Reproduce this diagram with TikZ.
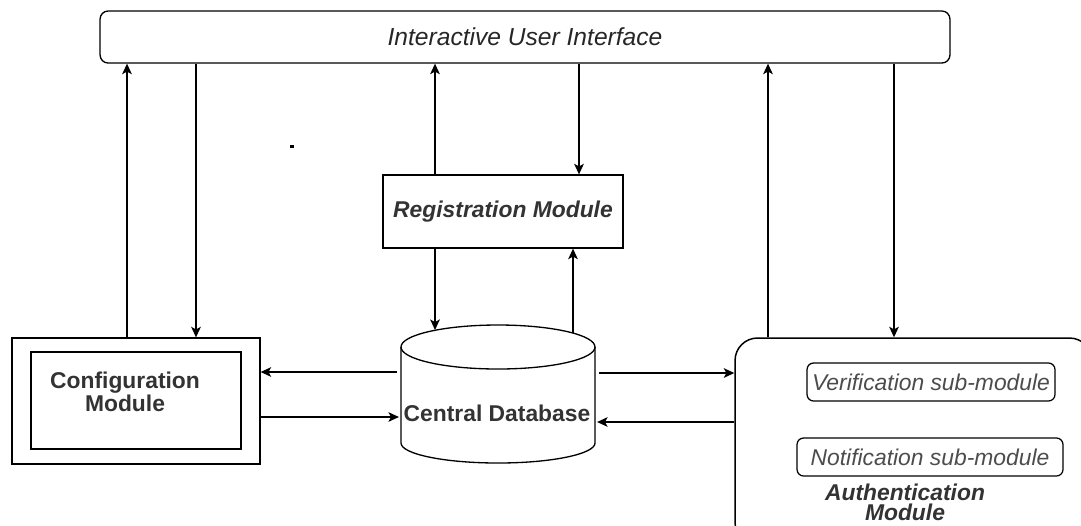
\documentclass[tikz,border=0pt]{standalone}
\usepackage{fontspec}
\setmainfont{Liberation Sans}
\usetikzlibrary{shapes,arrows,arrows.meta}
\usetikzlibrary{positioning}

\tikzset{
    modbox/.style={draw, line width=0.75pt, inner sep=0pt},
    modtext/.style={text=black!80, align=center, inner sep=0pt,
        font=\fontsize{13}{11.5}\selectfont\bfseries},
    subbox/.style={draw, line width=0.7pt, rounded corners=0.13cm, inner sep=0pt,
        minimum height=0.76cm, text=black!70,
        font=\fontsize{13}{15}\selectfont\itshape},
    flow/.style={->, line width=0.7pt}
}

\begin{document}
\begin{tikzpicture}[x=0.02cm,y=-0.02cm,>={Stealth[length=6pt,width=5.5pt,inset=1.5pt]}]
    \useasboundingbox (0,0) rectangle (1081,525);

    % top bar
    \node[modbox, rounded corners=0.16cm, minimum width=17cm, minimum height=1.04cm,
          text=black!85, font=\fontsize{14}{16}\selectfont\itshape] (ui) at (525,37)
          {Interactive User Interface};

    % registration
    \node[modbox, minimum width=4.8cm, minimum height=1.46cm, text=black!80,
          font=\fontsize{13}{15}\selectfont\bfseries\itshape] (reg) at (503,211.5)
          {Registration Module};

    % configuration, double frame
    \node[modbox, minimum width=4.96cm, minimum height=2.52cm] (conf) at (136,401) {};
    \node[modbox, minimum width=4.2cm, minimum height=1.94cm] (confin) at (136,400.5) {};
    \node[modtext] (conflabel) at (125,392) {Configuration\\Module};

    % database cylinder
    \node[minimum width=3.88cm, minimum height=2.76cm, inner sep=0pt] (db) at (498,394) {};
    \draw[line width=0.75pt] (401,347) -- (401,443)
        arc[start angle=180, end angle=0, x radius=97, y radius=20] -- (595,347);
    \draw[line width=0.75pt] (498,347) ellipse[x radius=97, y radius=22];
    \node[modtext] (dblabel) at (497,413) {Central Database};
    \coordinate (dbtopA) at (435,330);
    \coordinate (dbtopB) at (573,333);

    % authentication, runs off the page
    \node[modbox, line width=0.85pt, rounded corners=0.45cm, minimum width=7.14cm,
          minimum height=4.14cm] (auth) at (913.5,441.5) {};
    \node[subbox, minimum width=4.96cm] (verif) at (931,382) {Verification sub-module};
    \node[subbox, minimum width=5.32cm] (notif) at (930,457) {Notification sub-module};
    \node[modtext, font=\fontsize{13}{11.5}\selectfont\bfseries\itshape] (authlabel)
          at (905,502) {Authentication\\Module};

    % columns and rows of the connectors
    \coordinate (colA) at (127,0);
    \coordinate (colB) at (196,0);
    \coordinate (colC) at (435,0);
    \coordinate (colD) at (579,0);
    \coordinate (colE) at (573,0);
    \coordinate (colF) at (768,0);
    \coordinate (colG) at (894,0);
    \coordinate (row1) at (0,372);
    \coordinate (row2) at (0,417);
    \coordinate (row3) at (0,373);
    \coordinate (row4) at (0,422);

    \draw[flow] (conf.north -| colA) -- (ui.south -| colA);
    \draw[flow] (ui.south -| colB) -- (conf.north -| colB);
    \draw[flow] (reg.north -| colC) -- (ui.south -| colC);
    \draw[flow] (reg.south -| colC) -- (dbtopA);
    \draw[flow] (ui.south -| colD) -- (reg.north -| colD);
    \draw[flow] (dbtopB) -- (reg.south -| colE);
    \draw[flow] (auth.north -| colF) -- (ui.south -| colF);
    \draw[flow] (ui.south -| colG) -- (auth.north -| colG);

    \draw[flow] ([xshift=-2pt]db.west |- row1) -- (conf.east |- row1);
    \draw[flow] (conf.east |- row2) -- ([xshift=-1pt]db.west |- row2);
    \draw[flow] ([xshift=2pt]db.east |- row3) -- (auth.west |- row3);
    \draw[flow] (auth.west |- row4) -- ([xshift=1pt]db.east |- row4);

    % stray dot
    \fill (290,145) rectangle (294,148);
\end{tikzpicture}
\end{document}
